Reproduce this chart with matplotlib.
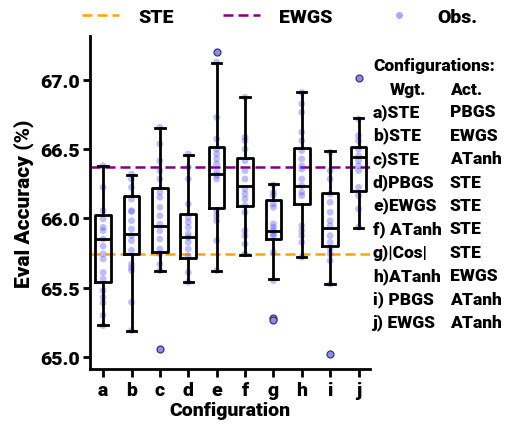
import matplotlib
matplotlib.use("Agg")
import matplotlib.pyplot as plt
from matplotlib.lines import Line2D

plt.rcParams['font.family'] = ['Roboto', 'DejaVu Sans']
plt.rcParams['font.weight'] = 'black'

categories = ['a', 'b', 'c', 'd', 'e', 'f', 'g', 'h', 'i', 'j']

q1 = [65.54, 65.744, 65.76, 65.713, 66.073, 66.093, 65.852, 66.105, 65.804, 66.2]
med = [65.852, 65.888, 65.944, 65.864, 66.321, 66.233, 65.912, 66.237, 65.929, 66.442]
q3 = [66.025, 66.165, 66.218, 66.032, 66.514, 66.435, 66.136, 66.507, 66.184, 66.514]
whislo = [65.231, 65.19, 65.623, 65.54, 65.623, 65.739, 65.561, 65.72, 65.527, 65.929]
whishi = [66.377, 66.314, 66.653, 66.461, 67.123, 66.88, 66.247, 66.91, 66.49, 66.723]
fliers = [[], [], [65.058], [], [67.2], [], [65.28, 65.27], [], [65.022], [67.012]]

obs = {
    'a': [66.38, 66.225, 66.056, 65.996, 65.936, 65.912, 65.852, 65.80, 65.744, 65.708,
          65.61, 65.563, 65.479, 65.43, 65.39, 65.30, 65.226],
    'b': [66.32, 66.285, 66.225, 66.14, 66.056, 66.05, 65.984, 65.924, 65.876, 65.84,
          65.77, 65.67, 65.645, 65.623, 65.395, 65.19],
    'c': [66.658, 66.538, 66.417, 66.345, 66.285, 66.19, 66.153, 66.08, 66.02, 65.96,
          65.912, 65.852, 65.78, 65.744, 65.67, 65.623],
    'd': [66.466, 66.37, 66.285, 66.105, 66.009, 65.973, 65.936, 65.888, 65.864, 65.828,
          65.78, 65.73, 65.61, 65.54],
    'e': [67.128, 66.73, 66.574, 66.50, 66.466, 66.43, 66.394, 66.334, 66.31, 66.285,
          66.056, 66.02, 65.984, 65.84, 65.623],
    'f': [66.875, 66.586, 66.562, 66.50, 66.417, 66.345, 66.285, 66.213, 66.177, 66.14,
          66.093, 66.045, 65.912, 65.876, 65.816, 65.744],
    'g': [66.242, 66.19, 66.165, 66.105, 66.08, 65.96, 65.936, 65.912, 65.888, 65.876,
          65.756, 65.551],
    'h': [66.91, 66.827, 66.767, 66.622, 66.562, 66.49, 66.43, 66.38, 66.357, 66.285,
          66.237, 66.19, 66.165, 65.948, 65.912, 65.876, 65.828, 65.72],
    'i': [66.478, 66.345, 66.285, 66.177, 66.117, 66.045, 65.984, 65.948, 65.876, 65.828,
          65.78, 65.744, 65.695, 65.527],
    'j': [66.718, 66.598, 66.562, 66.50, 66.453, 66.417, 66.38, 66.345, 66.225, 66.165,
          66.069, 65.936],
}

ste_ref = 65.744
ewgs_ref = 66.374

config_rows = [
    ('a)STE', 'PBGS'), ('b)STE', 'EWGS'), ('c)STE', 'ATanh'), ('d)PBGS', 'STE'),
    ('e)EWGS', 'STE'), ('f) ATanh', 'STE'), ('g)|Cos|', 'STE'), ('h)ATanh', 'EWGS'),
    ('i) PBGS', 'ATanh'), ('j) EWGS', 'ATanh'),
]

fig = plt.figure(figsize=(5.06, 4.27), dpi=100)
ax = fig.add_axes([0.178, 0.1335, 0.553, 0.78])

positions = list(range(len(categories)))
stats = []
for i, c in enumerate(categories):
    stats.append(dict(label=c, q1=q1[i], med=med[i], q3=q3[i],
                      whislo=whislo[i], whishi=whishi[i], fliers=fliers[i]))

lw = 2.0
ax.bxp(stats, positions=positions, widths=0.55, capwidths=0.33, showfliers=True,
       boxprops=dict(color='black', linewidth=lw),
       medianprops=dict(color='black', linewidth=lw),
       whiskerprops=dict(color='black', linewidth=lw),
       capprops=dict(color='black', linewidth=lw),
       flierprops=dict(marker='o', markerfacecolor='#8c8cf0', markeredgecolor='#3a3a6a',
                       markersize=5, markeredgewidth=0.9),
       zorder=3)

for i, c in enumerate(categories):
    ax.scatter([i] * len(obs[c]), obs[c], s=24, color='#4444ff', alpha=0.35,
               edgecolors='none', zorder=2)

dash = (0, (4.0, 2.0))
ax.axhline(ste_ref, color='#FFA500', linestyle=dash, linewidth=1.8, zorder=1)
ax.axhline(ewgs_ref, color='#800080', linestyle=dash, linewidth=1.8, zorder=1)

ax.set_xlim(-0.46, 9.4)
ax.set_ylim(64.913, 67.318)
ax.set_xticks(positions)
ax.set_xticklabels(categories)
ax.set_yticks([65.0, 65.5, 66.0, 66.5, 67.0])
ax.set_yticklabels(['65.0', '65.5', '66.0', '66.5', '67.0'])
for s in ['top', 'right']:
    ax.spines[s].set_visible(False)
for s in ['left', 'bottom']:
    ax.spines[s].set_linewidth(2.0)
ax.tick_params(axis='both', width=2.0, labelsize=14)
ax.tick_params(axis='x', length=6, pad=3)
ax.tick_params(axis='y', length=5, pad=2)
ax.set_ylabel('Eval Accuracy (%)', fontsize=15, fontweight='black', labelpad=5)
ax.set_xlabel('Configuration', fontsize=14, fontweight='black', labelpad=1)

handles = [
    Line2D([], [], color='#FFA500', linestyle=dash, linewidth=1.8),
    Line2D([], [], color='#800080', linestyle=dash, linewidth=1.8),
    Line2D([], [], color='#4444ff', alpha=0.45, marker='o', linestyle='none', markersize=5,
           markeredgewidth=0),
]
fig.legend(handles, ['STE', 'EWGS', 'Obs.'], loc='center', bbox_to_anchor=(0.553, 0.958),
           ncol=3, frameon=False, handlelength=1.9, handletextpad=1.0,
           columnspacing=2.5, prop=dict(weight='black', size=14))

fx0 = 373 / 506
fx1 = 450 / 506
fs = 12.5
fig.text(fx0, 1 - 66 / 427, 'Configurations:', fontsize=fs, fontweight='black', va='center', ha='left')
fig.text(390 / 506, 1 - 90 / 427, 'Wgt.', fontsize=fs, fontweight='black', va='center', ha='left')
fig.text(fx1, 1 - 90 / 427, 'Act.', fontsize=fs, fontweight='black', va='center', ha='left')
for k, (w, a) in enumerate(config_rows):
    y = 1 - (112.5 + 23.4 * k) / 427
    fig.text(fx0, y, w, fontsize=fs, fontweight='black', va='center', ha='left')
    fig.text(fx1, y, a, fontsize=fs, fontweight='black', va='center', ha='left')

fig.savefig('out.png', dpi=100)
